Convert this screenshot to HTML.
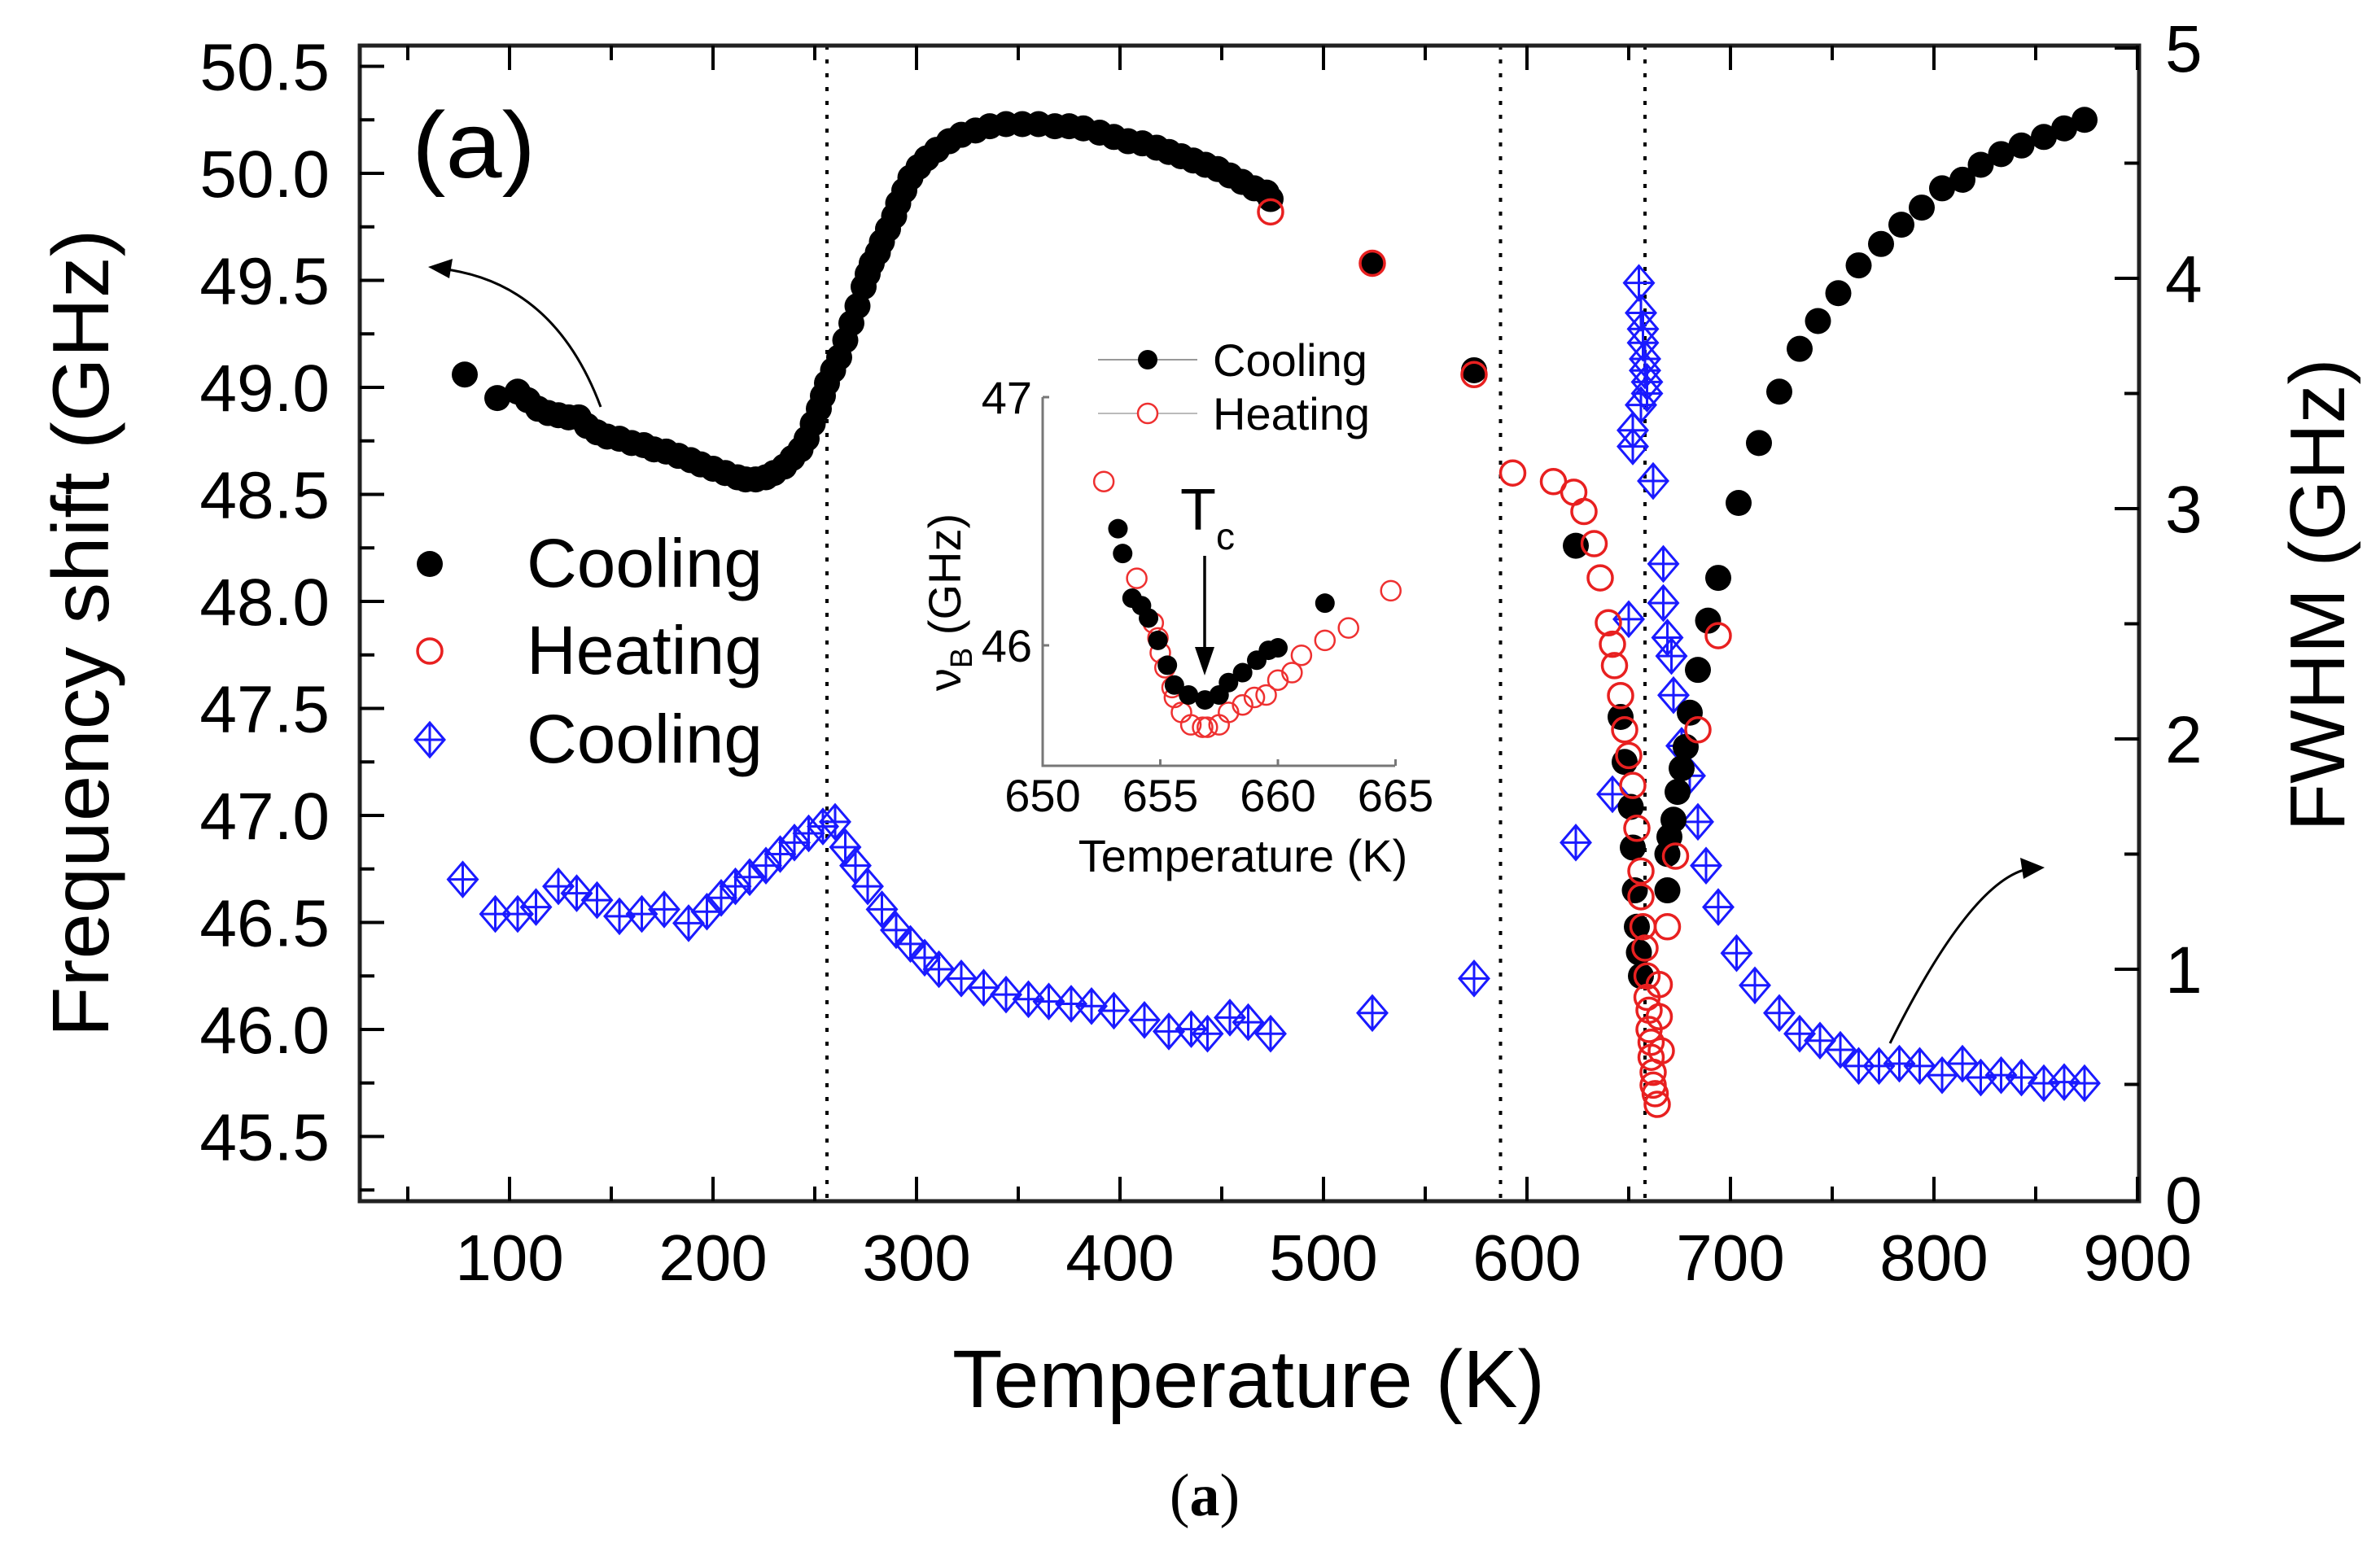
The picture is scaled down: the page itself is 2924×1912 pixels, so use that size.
<!DOCTYPE html>
<html><head><meta charset="utf-8"><style>
html,body{margin:0;padding:0;background:#fff;}
svg{display:block;font-family:"Liberation Sans",Arial,sans-serif;}
</style></head><body>
<svg id="chart" width="2924" height="1912" viewBox="0 0 2924 1912" xmlns="http://www.w3.org/2000/svg">
<rect width="2924" height="1912" fill="#fff"/>
<g id="marks"></g>
<g id="axes"></g>
<g id="inset"></g>
</svg>
<script>
// ---------- main chart data ----------
const xTicks = [100,200,300,400,500,600,700,800,900];
const yLeftTicks = [45.5,46.0,46.5,47.0,47.5,48.0,48.5,49.0,49.5,50.0,50.5];
const yRightTicks = [0,1,2,3,4,5];
const coolT = [78,94,104,109,114,119,124,129,134,138,143,148,154,160,166,171,177,183,189,194,200,206,212,216,221,226,230,235,239,243,246,249,252,254,256,259,262,265,268,271,274,276,278,281,283,286,289,291,294,297,301,305,310,316,322,329,336,344,352,360,368,375,382,390,397,404,411,418,424,430,436,442,448,454,460,466,472,474,524,574,624,646,648,651,652,653,654,655,656,669,669,670,672,674,676,678,680,684,689,694,704,714,724,734,743,753,763,774,784,794,804,814,823,833,843,854,864,874];
const coolV = [49.06,48.95,48.98,48.94,48.90,48.88,48.87,48.86,48.86,48.82,48.79,48.77,48.76,48.74,48.73,48.71,48.70,48.68,48.66,48.64,48.62,48.60,48.58,48.57,48.57,48.58,48.60,48.63,48.67,48.71,48.76,48.83,48.90,48.96,49.02,49.08,49.14,49.22,49.30,49.38,49.47,49.53,49.58,49.63,49.68,49.74,49.80,49.86,49.92,49.98,50.03,50.07,50.11,50.15,50.18,50.20,50.22,50.23,50.23,50.23,50.22,50.22,50.21,50.19,50.17,50.15,50.14,50.12,50.10,50.08,50.06,50.04,50.02,49.99,49.96,49.93,49.91,49.88,49.58,49.08,48.26,47.46,47.25,47.04,46.85,46.65,46.48,46.36,46.25,46.65,46.82,46.90,46.98,47.11,47.22,47.32,47.48,47.68,47.91,48.11,48.46,48.74,48.98,49.18,49.31,49.44,49.57,49.67,49.76,49.84,49.93,49.97,50.04,50.09,50.13,50.17,50.21,50.25];
const heatT = [474,524,574,593,613,623,628,633,636,640,642,643,646,648,650,652,654,656,656,657,658,659,659,660,660,661,661,662,662,663,664,665,665,666,669,673,684,694];
const heatV = [49.82,49.58,49.06,48.60,48.56,48.51,48.42,48.27,48.11,47.90,47.80,47.70,47.56,47.40,47.28,47.14,46.94,46.74,46.62,46.48,46.38,46.25,46.15,46.09,46.00,45.94,45.87,45.80,45.74,45.70,45.65,46.21,46.06,45.90,46.48,46.81,47.40,47.84];
const fwhmT = [77,93,104,113,124,133,143,154,165,176,188,197,204,211,218,226,233,240,247,254,260,265,270,276,283,290,297,304,311,322,333,344,355,365,376,386,397,412,424,435,443,454,463,474,524,574,624,642,650,652,652,655,656,657,657,658,658,659,659,656,662,667,667,669,671,672,676,680,684,688,694,703,712,724,734,744,754,763,773,783,793,804,814,823,833,843,854,864,874];
const fwhmV = [1.39,1.24,1.24,1.27,1.36,1.33,1.30,1.23,1.24,1.26,1.20,1.25,1.31,1.36,1.40,1.45,1.50,1.55,1.59,1.62,1.64,1.53,1.45,1.36,1.26,1.17,1.11,1.05,1.00,0.96,0.92,0.89,0.87,0.86,0.85,0.84,0.82,0.78,0.73,0.74,0.72,0.79,0.77,0.72,0.81,0.96,1.55,1.76,2.52,3.34,3.27,3.98,3.85,3.78,3.72,3.65,3.60,3.55,3.50,3.45,3.12,2.76,2.59,2.44,2.36,2.19,1.97,1.84,1.64,1.45,1.27,1.07,0.93,0.81,0.72,0.69,0.65,0.58,0.58,0.59,0.58,0.54,0.59,0.53,0.54,0.53,0.505,0.51,0.505];
const vLines = [256,587,658];
// ---------- inset data ----------
const insetXTicks = [650,655,660,665];
const insetYTicks = [46,47];
const inCoolT = [653.2,653.4,653.8,654.2,654.5,654.9,655.3,655.6,656.2,656.9,657.5,657.9,658.5,659.1,659.6,660.0,662.0];
const inCoolV = [46.47,46.37,46.19,46.16,46.11,46.02,45.92,45.84,45.80,45.78,45.80,45.85,45.89,45.94,45.98,45.99,46.17];
const inHeatT = [652.6,654.0,654.7,654.9,655.0,655.2,655.5,655.6,655.9,656.3,656.8,657.0,657.5,657.9,658.5,659.0,659.5,660.0,660.6,661.0,662.0,663.0,664.8];
const inHeatV = [46.66,46.27,46.09,46.03,45.97,45.91,45.83,45.79,45.73,45.68,45.67,45.67,45.68,45.73,45.76,45.79,45.80,45.86,45.89,45.96,46.02,46.07,46.22];

const NS='http://www.w3.org/2000/svg';
const L=442,R=2628,T=56,B=1476;
function xs(t){return 626+(t-100)*2.5;}
function yl(v){return 213+(50-v)*263;}
function yr(f){return 1474-f*283;}
function ixs(t){return 1281+(t-650)*28.9;}
function iys(v){return 488+(47-v)*305;}
function mk(tag,attrs,parent,text){const e=document.createElementNS(NS,tag);for(const k in attrs)e.setAttribute(k,attrs[k]);if(text!==undefined)e.textContent=text;parent.appendChild(e);return e;}
const marks=document.getElementById('marks'),axes=document.getElementById('axes'),inset=document.getElementById('inset');

vLines.forEach(t=>{const l=mk('line',{x1:xs(t),x2:xs(t),y1:T,y2:B,stroke:'#000','stroke-width':4,'stroke-dasharray':'5,12'},marks);

});

fwhmT.forEach((t,i)=>{const x=xs(t),y=yr(fwhmV[i]);const g=mk('g',{},marks);


mk('path',{d:`M${x-18},${y}L${x},${y-21}L${x+18},${y}L${x},${y+21}Z M${x-18},${y}H${x+18} M${x},${y-21}V${y+21}`,fill:'none',stroke:'#1a1aff','stroke-width':3},g);});
coolT.forEach((t,i)=>{const c=mk('circle',{cx:xs(t),cy:yl(coolV[i]),r:16,fill:'#000'},marks);

});
heatT.forEach((t,i)=>{const c=mk('circle',{cx:xs(t),cy:yl(heatV[i]),r:15,fill:'none',stroke:'#e82020','stroke-width':3.5},marks);

});

mk('path',{d:'M738,500 Q680,345 540,330',fill:'none',stroke:'#000','stroke-width':3},marks);
mk('path',{d:'M526,328 L556,318 L552,342 Z',fill:'#000'},marks);
mk('path',{d:'M2322,1282 Q2420,1085 2490,1068',fill:'none',stroke:'#000','stroke-width':3},marks);
mk('path',{d:'M2512,1066 L2482,1054 L2486,1080 Z',fill:'#000'},marks);

const frame=mk('rect',{x:L,y:T,width:R-L,height:B-T,fill:'none',stroke:'#222','stroke-width':5},axes);


for(let t=50;t<=900;t+=50){const maj=t%100===0;const len=maj?30:18;const x=xs(t);if(x<L+3)continue;
mk('line',{x1:x,x2:x,y1:B,y2:B-len,stroke:'#000','stroke-width':4},axes);
mk('line',{x1:x,x2:x,y1:T,y2:T+len,stroke:'#000','stroke-width':4},axes);}
xTicks.forEach(t=>{const e=mk('text',{x:xs(t),y:1573,'font-size':80,'text-anchor':'middle'},axes,String(t));

});
for(let v=45.25;v<=50.51;v+=0.25){const maj=Math.abs(v*2-Math.round(v*2))<1e-6;const y=yl(v);
mk('line',{x1:L,x2:L+(maj?30:18),y1:y,y2:y,stroke:'#000','stroke-width':4},axes);}
yLeftTicks.forEach(v=>{const e=mk('text',{x:405,y:yl(v)+29,'font-size':82,'text-anchor':'end'},axes,v.toFixed(1));

});
for(let f=0.5;f<=5;f+=0.5){const y=yr(f);const maj=Math.abs(f-Math.round(f))<1e-6;
mk('line',{x1:R,x2:R-(maj?30:18),y1:y,y2:y,stroke:'#000','stroke-width':4},axes);}
yRightTicks.forEach(f=>{const e=mk('text',{x:2660,y:yr(f)+29,'font-size':82},axes,String(f));

});

let e;
e=mk('text',{x:1534,y:1729,'font-size':100,'text-anchor':'middle',textLength:728,lengthAdjust:'spacingAndGlyphs'},axes,'Temperature (K)');

e=mk('text',{x:0,y:0,'font-size':98,'text-anchor':'middle',transform:'translate(133,778) rotate(-90)',textLength:993,lengthAdjust:'spacingAndGlyphs'},axes,'Frequency shift (GHz)');

e=mk('text',{x:0,y:0,'font-size':96,'text-anchor':'middle',transform:'translate(2880,731) rotate(-90)',textLength:581,lengthAdjust:'spacingAndGlyphs'},axes,'FWHM (GHz)');

e=mk('text',{x:506,y:218,'font-size':115,textLength:152,lengthAdjust:'spacingAndGlyphs'},axes,'(a)');

e=mk('text',{x:1480,y:1862,'font-size':74,'text-anchor':'middle','font-family':'"Liberation Serif",serif'},axes,'');
mk('tspan',{},e,'(');mk('tspan',{'font-weight':'bold'},e,'a');mk('tspan',{},e,')');


const leg=mk('g',{},axes);


mk('circle',{cx:528,cy:693,r:16,fill:'#000'},leg);
mk('circle',{cx:528,cy:800,r:15,fill:'none',stroke:'#e82020','stroke-width':3.5},leg);
mk('path',{d:'M510,909L528,888L546,909L528,930Z M510,909H546 M528,888V930',fill:'none',stroke:'#1a1aff','stroke-width':3},leg);
[['Cooling',721],['Heating',828],['Cooling',937]].forEach(([s,y])=>{const t=mk('text',{x:647,y:y,'font-size':84,textLength:290,lengthAdjust:'spacingAndGlyphs'},leg,s);

});

mk('path',{d:'M1281,488 V941 H1714',fill:'none',stroke:'#777','stroke-width':3},inset);
insetXTicks.forEach(t=>{mk('line',{x1:ixs(t),x2:ixs(t),y1:941,y2:933,stroke:'#777','stroke-width':3},inset);
const tx=mk('text',{x:ixs(t),y:997,'font-size':56,'text-anchor':'middle'},inset,String(t));

});
insetYTicks.forEach(v=>{mk('line',{x1:1281,x2:1289,y1:iys(v),y2:iys(v),stroke:'#777','stroke-width':3},inset);
const tx=mk('text',{x:1268,y:iys(v)+20,'font-size':56,'text-anchor':'end'},inset,String(v));

});
e=mk('text',{x:1527,y:1071,'font-size':56,'text-anchor':'middle'},inset,'Temperature (K)');

e=mk('text',{x:0,y:0,'font-size':56,'text-anchor':'middle',transform:'translate(1180,740) rotate(-90)'},inset,'');
mk('tspan',{},e,'ν');mk('tspan',{'font-size':38,dy:14},e,'B');mk('tspan',{dy:-14},e,' (GHz)');

inHeatT.forEach((t,i)=>{const c=mk('circle',{cx:ixs(t),cy:iys(inHeatV[i]),r:12,fill:'none',stroke:'#ee3030','stroke-width':2.5},inset);

});
inCoolT.forEach((t,i)=>{const c=mk('circle',{cx:ixs(t),cy:iys(inCoolV[i]),r:12,fill:'#000'},inset);

});
mk('line',{x1:1480,x2:1480,y1:683,y2:800,stroke:'#000','stroke-width':3.5},inset);
mk('path',{d:'M1468,795 L1492,795 L1480,830 Z',fill:'#000'},inset);
e=mk('text',{x:1450,y:651,'font-size':72},inset,'T');

mk('text',{x:1494,y:675,'font-size':46},inset,'c');
const il=mk('g',{},inset);


mk('line',{x1:1349,x2:1471,y1:442,y2:442,stroke:'#999','stroke-width':2},il);
mk('circle',{cx:1410,cy:442,r:12,fill:'#000'},il);
mk('line',{x1:1349,x2:1471,y1:508,y2:508,stroke:'#bbb','stroke-width':2},il);
mk('circle',{cx:1410,cy:508,r:12,fill:'#fff',stroke:'#ee3030','stroke-width':2.5},il);
mk('text',{x:1490,y:462,'font-size':56},il,'Cooling');
mk('text',{x:1490,y:528,'font-size':56},il,'Heating');
</script>
</body></html>
